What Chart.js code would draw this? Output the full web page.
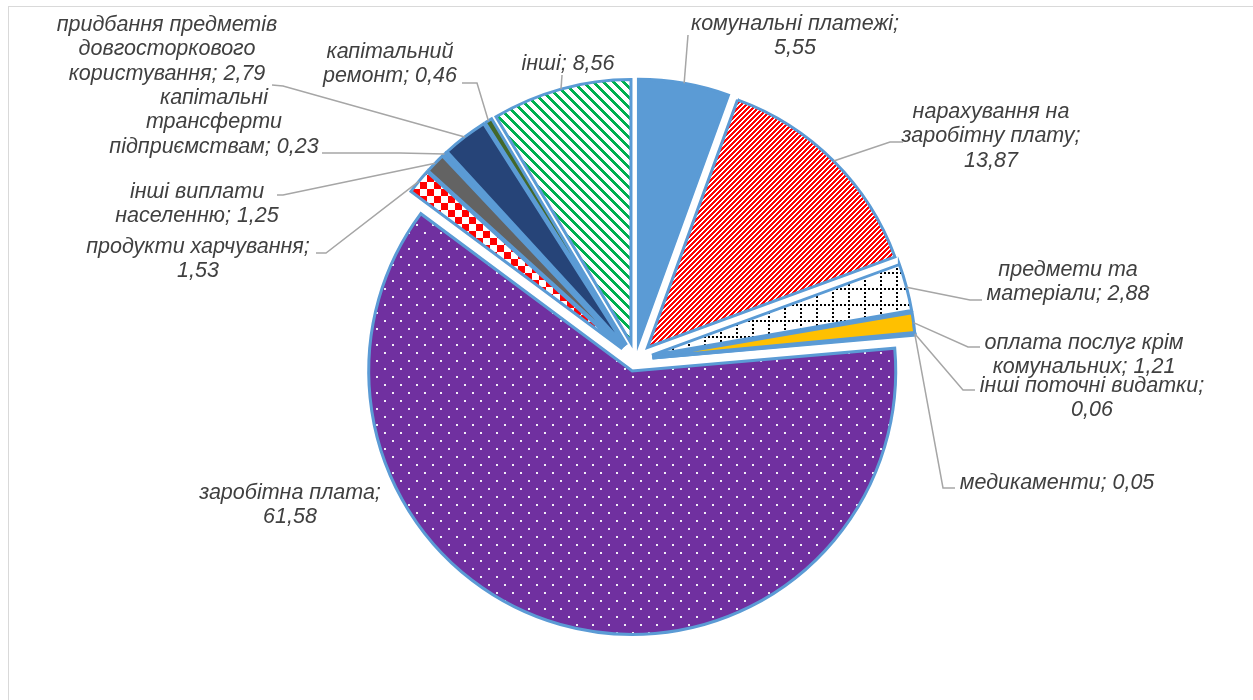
<!DOCTYPE html>
<html>
<head>
<meta charset="utf-8">
<script src="https://cdn.jsdelivr.net/npm/chart.js@4.4.1/dist/chart.umd.min.js"></script>
<style>
  body { margin: 0; background: #fff; }
  #wrap { position: relative; width: 1253px; height: 700px; overflow: hidden; }
  #frame { position: absolute; left: 8px; top: 6px; width: 1260px; height: 720px;
           border-top: 1.5px solid #d9d9d9; border-left: 1.5px solid #d9d9d9; }
  canvas { position: absolute; left: 0; top: 0; }
</style>
</head>
<body>
<div id="wrap">
  <div id="frame"></div>
  <canvas id="myChart" width="1253" height="700"></canvas>
</div>
<script>
// data ------------------------------------------------------------
const categories = [
  'комунальні платежі',
  'нарахування на заробітну плату',
  'предмети та матеріали',
  'оплата послуг крім комунальних',
  'інші поточні видатки',
  'медикаменти',
  'заробітна плата',
  'продукти харчування',
  'інші виплати населенню',
  'капітальні трансферти підприємствам',
  'придбання предметів довгосторкового користування',
  'капітальний ремонт',
  'інші'
];
const values = [5.55, 13.87, 2.88, 1.21, 0.06, 0.05, 61.58, 1.53, 1.25, 0.23, 2.79, 0.46, 8.56];

// how far each slice is pulled out (px)
const explode = [17, 17, 17, 17, 17, 17, 12, 17, 17, 17, 17, 17, 17];

// label boxes: centre x, first line y, wrap width, leader points
const labelLayout = [
  { x: 795, y: 24, w: 215, line: [[688, 35]] },
  { x: 991, y: 112, w: 182, line: [[890, 142], [903, 142]] },
  { x: 1068, y: 270, w: 172, line: [[970, 300], [982, 300]] },
  { x: 1084, y: 343, w: 208, line: [[968, 347], [980, 347]] },
  { x: 1092, y: 386, w: 236, line: [[963, 390], [975, 390]] },
  { x: 1057, y: 483, w: 260, line: [[943, 488], [955, 488]] },
  { x: 290, y: 493, w: 185, line: [] },
  { x: 198, y: 247, w: 240, line: [[326, 253], [316, 253]] },
  { x: 197, y: 192, w: 176, line: [[283, 195], [277, 195]] },
  { x: 214, y: 98, w: 218, line: [[400, 153], [322, 153]] },
  { x: 167, y: 25, w: 234, line: [[283, 86], [272, 85]] },
  { x: 390, y: 52, w: 148, line: [[477, 83], [462, 83]] },
  { x: 568, y: 64, w: 200, line: [[562, 75]] }
];

// patterns --------------------------------------------------------
function tile(size, bg, draw) {
  const c = document.createElement('canvas');
  c.width = size; c.height = size;
  const g = c.getContext('2d');
  g.fillStyle = bg;
  g.fillRect(0, 0, size, size);
  draw(g);
  return document.getElementById('myChart').getContext('2d').createPattern(c, 'repeat');
}

const redStripes = tile(5, '#ffffff', g => {
  g.fillStyle = '#ff0000';
  for (let y = 0; y < 5; y++) {
    for (let k = 0; k < 3; k++) g.fillRect((4 - y + k + 5) % 5, y, 1, 1);
  }
});
const greenStripes = tile(10, '#ffffff', g => {
  g.fillStyle = '#00b050';
  for (let y = 0; y < 10; y++) {
    for (let k = 0; k < 4; k++) g.fillRect((y + k) % 10, y, 1, 1);
  }
});
const dottedGrid = tile(16, '#ffffff', g => {
  g.fillStyle = '#000000';
  for (let i = 0; i < 16; i += 4) {
    g.fillRect(i, 0, 2, 2);
    g.fillRect(0, i, 2, 2);
  }
});
const purpleDots = tile(16, '#7030a0', g => {
  g.fillStyle = '#f2ecf7';
  g.fillRect(0, 0, 2, 2);
  g.fillRect(8, 8, 2, 2);
});
const checker = tile(14, '#ffffff', g => {
  g.fillStyle = '#ff0000';
  g.fillRect(0, 0, 7, 7);
  g.fillRect(7, 7, 7, 7);
});

const fills = [
  '#5b9bd5', redStripes, dottedGrid, '#ffc000', '#a5a5a5', '#4472c4',
  purpleDots, checker, '#636363', '#5b9bd5', '#264478', '#43682b', greenStripes
];

// pull slices out along their middle angle, radius stays the same
const explodePlugin = {
  id: 'explode',
  afterUpdate(chart) {
    chart.getDatasetMeta(0).data.forEach((arc, i) => {
      const mid = (arc.startAngle + arc.endAngle) / 2;
      arc.x += Math.cos(mid) * explode[i];
      arc.y += Math.sin(mid) * explode[i];
    });
  }
};

// labels with leader lines ----------------------------------------
function wrap(ctx, text, width) {
  const words = text.split(' ');
  const lines = [];
  let cur = '';
  words.forEach(w => {
    const t = cur ? cur + ' ' + w : w;
    if (cur && ctx.measureText(t).width > width) {
      lines.push(cur);
      cur = w;
    } else {
      cur = t;
    }
  });
  lines.push(cur);
  return lines;
}

const pieLabels = {
  id: 'pieLabels',
  afterDatasetsDraw(chart) {
    const ctx = chart.ctx;
    const arcs = chart.getDatasetMeta(0).data;
    ctx.save();
    ctx.font = 'italic 21.5px "Liberation Sans", Arial, sans-serif';
    ctx.textAlign = 'center';
    ctx.textBaseline = 'middle';
    arcs.forEach((arc, i) => {
      const lay = labelLayout[i];
      const mid = (arc.startAngle + arc.endAngle) / 2;
      const r = arc.outerRadius;
      if (lay.line.length) {
        ctx.beginPath();
        ctx.moveTo(arc.x + Math.cos(mid) * r, arc.y + Math.sin(mid) * r);
        lay.line.forEach(p => ctx.lineTo(p[0], p[1]));
        ctx.strokeStyle = '#a6a6a6';
        ctx.lineWidth = 1.5;
        ctx.stroke();
      }
      const text = categories[i] + '; ' + values[i].toFixed(2).replace('.', ',');
      ctx.fillStyle = '#404040';
      wrap(ctx, text, lay.w).forEach((ln, k) => {
        ctx.fillText(ln, lay.x, lay.y + k * 24.5);
      });
    });
    ctx.restore();
  }
};

// chart -----------------------------------------------------------
const ctx = document.getElementById('myChart').getContext('2d');
const chart = new Chart(ctx, {
  type: 'pie',
  data: {
    labels: categories,
    datasets: [{
      data: values,
      backgroundColor: fills,
      borderColor: '#5b9bd5',
      borderWidth: 3,
      borderJoinStyle: 'miter',
      clip: false
    }]
  },
  options: {
    responsive: false,
    animation: false,
    events: [],
    radius: 263.5,
    layout: { padding: { left: 368, right: 350, top: 90, bottom: 71 } },
    plugins: {
      legend: { display: false },
      tooltip: { enabled: false }
    }
  },
  plugins: [explodePlugin, pieLabels]
});
</script>
</body>
</html>
